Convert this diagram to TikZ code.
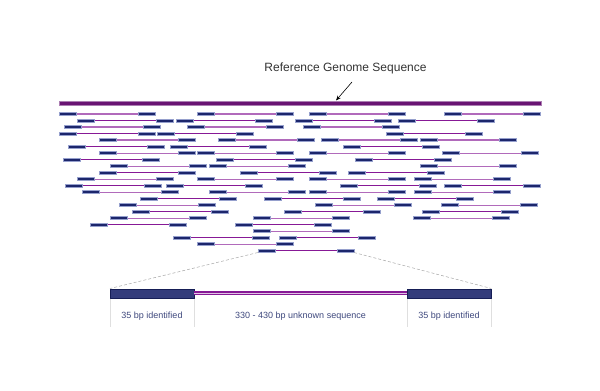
\documentclass[tikz,border=0pt]{standalone}
\usepackage{fontspec}
\setmainfont{Liberation Sans}
\usepackage{tikz}
\usetikzlibrary{arrows.meta, positioning, calc}
\definecolor{readnavy}{RGB}{28,38,108}
\definecolor{readedge}{RGB}{150,160,205}
\definecolor{readpurple}{RGB}{135,25,150}
\definecolor{refpurple}{RGB}{105,20,115}
\definecolor{labelblue}{RGB}{62,72,125}

\begin{document}
\begin{tikzpicture}[x=1pt, y=-1pt]
		\useasboundingbox (0,0) rectangle (600,391);
		\pgfmathsetmacro{\blockw}{17}
		\pgfmathsetmacro{\readlen}{96}
		\pgfmathsetmacro{\rowgap}{6.51}
		
		\draw[refpurple!55, fill=refpurple, line width=0.6pt] (59,101.7) rectangle (541,105.7);
		\node[text=black!80, font=\fontsize{12}{14}\selectfont] (reflabel) at (345.5,68) {Reference Genome Sequence};
		\coordinate (arrowtail) at (352,82);
		\coordinate (arrowhead) at (336,100.5);
		\draw[black, line width=0.6pt, -{Stealth[length=5pt, width=4pt]}] (arrowtail) -- (arrowhead);
		
		\foreach \row/\starts in {1/{59,197,309,444}, 2/{77,176,295,398}, 3/{64,187,303},
			4/{59,157,386}, 5/{99,218,321,420}, 6/{68,170,343}, 7/{99,197,309,442},
			8/{63,216,355}, 9/{110,209,420}, 10/{99,240,348}, 11/{77,197,309,414},
			12/{65,166,340,444}, 13/{82,209,309,414}, 14/{140,264,377}, 15/{119,315,441},
			16/{132,284,422}, 17/{110,253,413}, 18/{90,235}, 19/{253}, 20/{173,279},
			21/{197}, 22/{258}}{
			\pgfmathsetmacro{\ry}{114+(\row-1)*\rowgap}
			\pgfmathsetmacro{\shade}{mod(\row,2)==0 ? 100 : 65}
			\foreach \s in \starts {
				\draw[readpurple!\shade!white, line width=1.1pt] (\s+\blockw,\ry) -- (\s+\readlen-\blockw,\ry);
				\draw[readedge, fill=readnavy, line width=0.5pt] (\s,\ry-1.5) rectangle (\s+\blockw,\ry+1.5);
				\draw[readedge, fill=readnavy, line width=0.5pt] (\s+\readlen-\blockw,\ry-1.5) rectangle (\s+\readlen,\ry+1.5);
			}
		}
		
		\coordinate (zoomleft) at (258,252.5);
		\coordinate (zoomright) at (354,252.5);
		\node[draw=readnavy!80!black, fill=readnavy!90, minimum width=84, minimum height=9, inner sep=0pt, anchor=north west] (leftid) at (110,288.5) {};
		\node[draw=readnavy!80!black, fill=readnavy!90, minimum width=84, minimum height=9, inner sep=0pt, anchor=north west] (rightid) at (407,288.5) {};
		\draw[readpurple, double=readpurple!25, double distance=1.2pt, line width=1.2pt] (leftid.east) -- (rightid.west);
		\draw[gray!70, densely dashed, line width=0.5pt] (zoomleft) -- (leftid.north west);
		\draw[gray!70, densely dashed, line width=0.5pt] (zoomright) -- (rightid.north east);
		
		\foreach \sx in {110,194,407,491}
			\draw[gray!25, line width=0.6pt] (\sx,298.5) -- (\sx,327);
		
		\node[text=labelblue, font=\fontsize{9}{11}\selectfont] (leftlabel) at (152,316) {35 bp identified};
		\node[text=labelblue, font=\fontsize{9}{11}\selectfont] (midlabel) at (300.5,316) {330 - 430 bp unknown sequence};
		\node[text=labelblue, font=\fontsize{9}{11}\selectfont] (rightlabel) at (449,316) {35 bp identified};
\end{tikzpicture}
\end{document}
